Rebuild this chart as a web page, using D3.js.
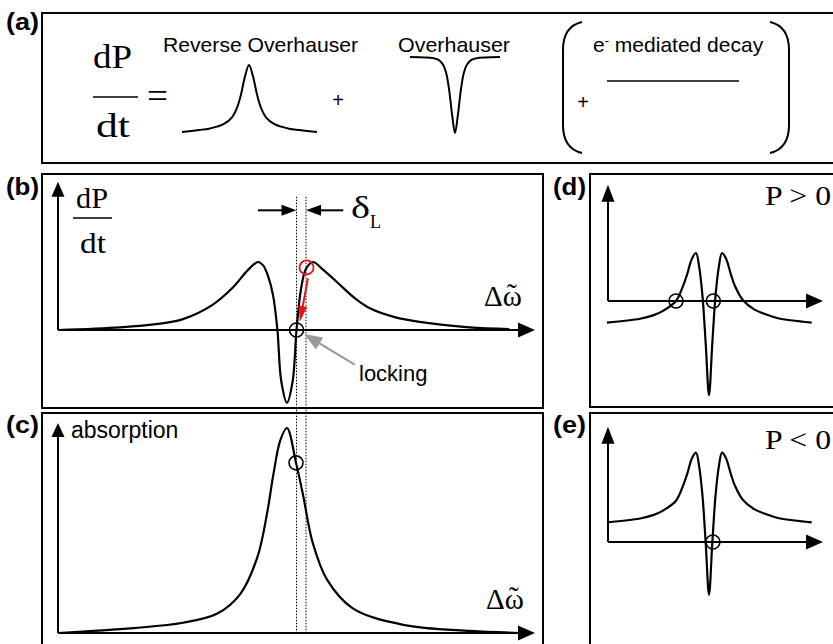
<!DOCTYPE html>
<html><head><meta charset="utf-8">
<script src="https://cdn.jsdelivr.net/npm/d3@7"></script>
<style>body{margin:0;background:#fff}svg{display:block}</style>
</head><body>
<script>
// ================= DATA =================
// (a) schematic line shapes (arbitrary units)
const reverseX = [-6.7,-5.0,-4.0,-3.2,-2.5,-1.7,-1.2,-0.8,-0.4,0,0.4,0.8,1.2,1.7,2.5,3.2,4.0,5.0,6.8];
const reverseY = [0,0.03,0.05,0.08,0.12,0.22,0.36,0.56,0.83,1,0.83,0.56,0.36,0.22,0.12,0.08,0.05,0.03,0];
const overX = [-4.5,-3.0,-2.2,-1.6,-1.2,-0.9,-0.6,-0.3,0,0.3,0.6,0.9,1.2,1.6,2.2,3.0,4.5];
const overY = [0,-0.005,-0.015,-0.04,-0.1,-0.2,-0.42,-0.75,-1,-0.75,-0.42,-0.2,-0.1,-0.04,-0.015,-0.005,0];
const decayX = [-1,1];
const decayY = [0,0];

// (b) dP/dt vs detuning
const bX = [-24,-17.5,-13.5,-10.9,-7.8,-5.7,-4.1,-3.04,-2.5,-2.0,-1.47,-1.0,-0.6,0,0.6,1.0,1.47,2.0,2.73,3.6,5.2,7.1,8.7,11.3,13.9,19.1,23.3];
const bY = [0,0.04,0.09,0.16,0.37,0.62,0.88,1.0,0.95,0.8,0.52,0,-0.75,-1.07,-0.75,0,0.6,0.9,1.0,0.91,0.71,0.47,0.32,0.19,0.12,0.04,0.015];
// (c) absorption vs detuning
const cX = [-24,-16.1,-10.9,-7.3,-4.9,-3.1,-2.1,-1.4,-0.7,0,0.95,1.7,2.7,4.2,6.9,12.2,19.2,24.4];
const cY = [0,0.024,0.05,0.095,0.19,0.37,0.58,0.78,0.94,1.0,0.83,0.67,0.44,0.26,0.12,0.04,0.01,0];
// (d) P > 0
const dX = [-7.85,-5.3,-4.3,-3.5,-2.54,-2.0,-1.7,-1.3,-1.0,-0.75,-0.5,-0.25,0,0.25,0.5,0.75,1.0,1.3,1.7,2.0,2.6,3.5,4.4,5.3,7.9];
const dY = [-0.45,-0.37,-0.3,-0.2,0,0.31,0.54,0.89,1.0,0.7,0.1,-0.9,-1.96,-0.9,0.1,0.7,1.0,0.89,0.54,0.31,0.02,-0.18,-0.28,-0.36,-0.45];
// (e) P < 0
const eX = [-7.85,-5.3,-4.3,-3.5,-2.54,-2.0,-1.7,-1.3,-1.0,-0.75,-0.5,-0.25,0,0.25,0.5,0.75,1.0,1.3,1.7,2.0,2.6,3.5,4.4,5.3,7.9];
const eY = [0.41,0.49,0.56,0.66,0.86,1.17,1.4,1.75,1.86,1.56,0.96,-0.04,-1.1,-0.04,0.96,1.56,1.86,1.75,1.4,1.17,0.88,0.68,0.58,0.5,0.41];

// markers (detuning / value units)
const lockB = [1.0, 0];          // locking point in (b)
const redB = [2.05, 0.92];       // red start point in (b)
const lockC = [0.95, 0.83];      // circle on absorption
const dCircles = [[-2.54,0],[0.33,0]];
const eCircles = [[0.3,0]];
const dottedX = [1.0, 2.0];      // delta_L bounds

// ================= SETUP =================
const W=833,H=644;
const svg=d3.select("body").append("svg").attr("width",W).attr("height",H);
const SERIF="'Liberation Serif','Times New Roman',serif";
const SANS="'Liberation Sans',Arial,Helvetica,sans-serif";
const line=(xs,ys,sx,sy)=>d3.line().x(d=>sx(d[0])).y(d=>sy(d[1])).curve(d3.curveCatmullRom.alpha(0.5))(xs.map((x,i)=>[x,ys[i]]));

function head(g,x1,y1,x2,y2,len,wid,col){
  const a=Math.atan2(y2-y1,x2-x1);
  const bx=x2-len*Math.cos(a), by=y2-len*Math.sin(a);
  const px=-Math.sin(a)*wid/2, py=Math.cos(a)*wid/2;
  g.append("path").attr("d",`M${x2},${y2}L${bx+px},${by+py}L${bx-px},${by-py}Z`).attr("fill",col);
}
function arrow(g,x1,y1,x2,y2,len,wid,col,sw){
  const a=Math.atan2(y2-y1,x2-x1);
  g.append("line").attr("x1",x1).attr("y1",y1)
    .attr("x2",x2-len*0.6*Math.cos(a)).attr("y2",y2-len*0.6*Math.sin(a))
    .attr("stroke",col).attr("stroke-width",sw||2);
  head(g,x1,y1,x2,y2,len,wid,col);
}
function txt(t,x,y,size,family,opts={}){
  const e=svg.append("text").attr("x",x).attr("y",y).attr("font-size",size)
    .attr("font-family",family).attr("fill",opts.fill||"#000").text(t);
  if(opts.bold) e.attr("font-weight","bold");
  if(opts.len) e.attr("textLength",opts.len).attr("lengthAdjust","spacingAndGlyphs");
  if(opts.anchor) e.attr("text-anchor",opts.anchor);
  return e;
}
function omegaLabel(x,y){
  const t=svg.append("text").attr("x",x).attr("y",y).attr("font-size",29).attr("font-family",SERIF);
  t.append("tspan").text("Δω");
  t.append("tspan").attr("dx",-15).attr("dy",-2).attr("font-size",30).text("˜");
}
const frame=(x,y,w,h)=>svg.append("rect").attr("x",x).attr("y",y).attr("width",w).attr("height",h)
  .attr("fill","none").attr("stroke","#000").attr("stroke-width",2);

// ================= PANEL (a) =================
frame(42,13,820,150);
txt("(a)",6,30,24,SANS,{bold:true,len:33});
txt("dP",93,68,34,SERIF,{len:39});
svg.append("line").attr("x1",93).attr("x2",138).attr("y1",97).attr("y2",97).attr("stroke","#000").attr("stroke-width",1.6);
txt("dt",96,137,34,SERIF,{len:34});
txt("=",147,108,36,SERIF,{len:21});
txt("Reverse Overhauser",163,52,21,SANS,{len:195});
txt("+",338,107,20,SANS,{anchor:"middle"});
txt("Overhauser",398,52,21,SANS,{len:112});
const eTxt=svg.append("text").attr("x",593).attr("y",52).attr("font-size",21).attr("font-family",SANS);
eTxt.append("tspan").text("e");
eTxt.append("tspan").attr("font-size",13).attr("dy",-7).text("-");
eTxt.append("tspan").attr("dy",7).text(" mediated decay");
txt("+",583,109,20,SANS,{anchor:"middle"});

const xR=d3.scaleLinear().domain([0,1]).range([249,259]);
const yR=d3.scaleLinear().domain([0,1]).range([132,65]);
svg.append("path").attr("d",line(reverseX,reverseY,xR,yR)).attr("fill","none").attr("stroke","#000").attr("stroke-width",2);
const xO=d3.scaleLinear().domain([0,1]).range([455,465]);
const yO=d3.scaleLinear().domain([0,-1]).range([57,133]);
svg.append("path").attr("d",line(overX,overY,xO,yO)).attr("fill","none").attr("stroke","#000").attr("stroke-width",2);
const xDec=d3.scaleLinear().domain([-1,1]).range([607,739]);
const yDec=d3.scaleLinear().domain([0,1]).range([81,40]);
svg.append("path").attr("d",d3.line().x(d=>xDec(d[0])).y(d=>yDec(d[1]))(decayX.map((x,i)=>[x,decayY[i]])))
  .attr("fill","none").attr("stroke","#000").attr("stroke-width",1.6);
// big parentheses
svg.append("path").attr("d","M582,22 C569,25 563,35 563,50 L563,125 C563,140 569,150 582,153")
  .attr("fill","none").attr("stroke","#000").attr("stroke-width",2);
svg.append("path").attr("d","M770,22 C783,25 789,35 789,50 L789,125 C789,140 783,150 770,153")
  .attr("fill","none").attr("stroke","#000").attr("stroke-width",2);

// ================= PANELS (b),(c) =================
frame(42,174,501,234);
frame(42,413,501,260);
txt("(b)",6,195,24,SANS,{bold:true,len:33});
txt("(c)",6,433,24,SANS,{bold:true,len:33});

const xBC=d3.scaleLinear().domain([-24,26]).range([58,535]);
const yB=d3.scaleLinear().domain([0,1]).range([330,262]);
const yC=d3.scaleLinear().domain([0,1]).range([633,428]);

// dotted lines spanning b and c
dottedX.forEach(v=>{
  svg.append("line").attr("x1",xBC(v)).attr("x2",xBC(v)).attr("y1",yB(1.96)).attr("y2",yC(0))
    .attr("stroke","#000").attr("stroke-width",1).attr("stroke-dasharray","1.5,1.5");
});

const gb=svg.append("g");
arrow(gb,xBC(-24),yB(0),xBC(26),yB(0),17,15,"#000",2);
arrow(gb,xBC(-24),yB(0),xBC(-24),yB(2.18),15,13,"#000",2);
gb.append("path").attr("d",line(bX,bY,xBC,yB)).attr("fill","none").attr("stroke","#000").attr("stroke-width",2.2);
txt("dP",76,208,29,SERIF,{len:32});
svg.append("line").attr("x1",73).attr("x2",112).attr("y1",218).attr("y2",218).attr("stroke","#000").attr("stroke-width",1.4);
txt("dt",80,253,29,SERIF,{len:26});
// delta_L arrows
arrow(gb,xBC(-3.04),yB(1.76),xBC(1.0),yB(1.76),15,11,"#000",2);
arrow(gb,xBC(5.9),yB(1.76),xBC(2.0),yB(1.76),15,11,"#000",2);
txt("δ",351,218,31,SERIF,{len:19});
txt("L",370,228,18,SERIF,{len:11});
omegaLabel(484,306);
// circles
gb.append("circle").attr("cx",xBC(lockB[0])).attr("cy",yB(lockB[1])).attr("r",7)
  .attr("fill","none").attr("stroke","#000").attr("stroke-width",1.6);
gb.append("circle").attr("cx",xBC(redB[0])).attr("cy",yB(redB[1])).attr("r",7)
  .attr("fill","none").attr("stroke","#e8141c").attr("stroke-width",1.8);
arrow(gb,xBC(2.2),yB(0.76),xBC(1.35),yB(0.12),16,9,"#e8141c",2);
arrow(gb,xBC(7.1),yB(-0.51),xBC(1.8),yB(-0.06),18,14,"#999",2.2);
txt("locking",359,381,22,SANS);

const gc=svg.append("g");
arrow(gc,xBC(-24),yC(0),xBC(26),yC(0),17,15,"#000",2);
arrow(gc,xBC(-24),yC(0),xBC(-24),yC(1.024),14,13,"#000",2);
gc.append("path").attr("d",line(cX,cY,xBC,yC)).attr("fill","none").attr("stroke","#000").attr("stroke-width",2.2);
gc.append("circle").attr("cx",xBC(lockC[0])).attr("cy",yC(lockC[1])).attr("r",7)
  .attr("fill","none").attr("stroke","#000").attr("stroke-width",1.6);
txt("absorption",71,438,23,SANS);
omegaLabel(486,609);

// ================= PANELS (d),(e) =================
frame(590,174,260,233);
frame(590,413,260,260);
txt("(d)",553,195,24,SANS,{bold:true,len:33});
txt("(e)",553,433,24,SANS,{bold:true,len:33});
const xDE=d3.scaleLinear().domain([0,1]).range([709,722]);
const yD=d3.scaleLinear().domain([0,1]).range([301,253]);
const yE=d3.scaleLinear().domain([0,1]).range([542,494]);

const gd=svg.append("g");
arrow(gd,xDE(-7.77),yD(0),xDE(8.77),yD(0),17,15,"#000",2);
arrow(gd,xDE(-7.77),yD(0),xDE(-7.77),yD(2.42),17,13,"#000",2);
gd.append("path").attr("d",line(dX,dY,xDE,yD)).attr("fill","none").attr("stroke","#000").attr("stroke-width",2.2);
dCircles.forEach(c=>gd.append("circle").attr("cx",xDE(c[0])).attr("cy",yD(c[1])).attr("r",7)
  .attr("fill","none").attr("stroke","#000").attr("stroke-width",1.6));
txt("P > 0",765,205,28,SERIF,{len:66});

const ge=svg.append("g");
arrow(ge,xDE(-7.77),yE(0),xDE(8.77),yE(0),17,15,"#000",2);
arrow(ge,xDE(-7.77),yE(0),xDE(-7.77),yE(2.4),17,13,"#000",2);
ge.append("path").attr("d",line(eX,eY,xDE,yE)).attr("fill","none").attr("stroke","#000").attr("stroke-width",2.2);
eCircles.forEach(c=>ge.append("circle").attr("cx",xDE(c[0])).attr("cy",yE(c[1])).attr("r",7)
  .attr("fill","none").attr("stroke","#000").attr("stroke-width",1.6));
txt("P < 0",765,449,28,SERIF,{len:66});
</script>
</body></html>
